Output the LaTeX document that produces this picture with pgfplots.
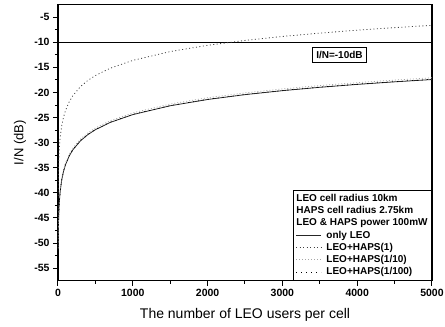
\documentclass[border=0pt]{standalone}
\usepackage{pgfplots}
\pgfplotsset{compat=1.18}
\usepackage{pgfplotstable}
\usepackage{fontspec}
\setmainfont{Liberation Sans}

\pgfplotstableread{
N    leo     h1      h10     h100
2    -51.39  -40.59  -51.04  -51.35
3    -49.63  -38.83  -49.28  -49.59
5    -47.41  -36.61  -47.06  -47.37
7    -45.95  -35.15  -45.60  -45.91
10   -44.40  -33.60  -44.05  -44.36
15   -42.64  -31.84  -42.29  -42.60
20   -41.39  -30.59  -41.04  -41.35
30   -39.63  -28.83  -39.28  -39.59
50   -37.41  -26.61  -37.06  -37.37
75   -35.65  -24.85  -35.30  -35.61
100  -34.40  -23.60  -34.05  -34.36
150  -32.64  -21.84  -32.29  -32.60
200  -31.39  -20.59  -31.04  -31.35
300  -29.63  -18.83  -29.28  -29.59
400  -28.38  -17.58  -28.03  -28.34
500  -27.41  -16.61  -27.06  -27.37
700  -25.95  -15.15  -25.60  -25.91
1000 -24.40  -13.60  -24.05  -24.36
1500 -22.64  -11.84  -22.29  -22.60
2000 -21.39  -10.59  -21.04  -21.35
2500 -20.42  -9.62   -20.07  -20.38
3000 -19.63  -8.83   -19.28  -19.59
3500 -18.96  -8.16   -18.61  -18.92
4000 -18.38  -7.58   -18.03  -18.34
4500 -17.87  -7.07   -17.52  -17.83
5000 -17.41  -6.61   -17.06  -17.37
}\datatable

\begin{document}
\begin{tikzpicture}
\begin{axis}[
  scale only axis, width=374pt, height=276pt,
  xmin=0, xmax=5000, ymin=-57.5, ymax=-2.5,
  xtick={0,1000,...,5000}, ytick={-55,-50,...,-5},
  minor x tick num=1, minor y tick num=1,
  tick align=outside, xtick pos=bottom, ytick pos=left,
  major tick length=5pt, minor tick length=3pt,
  axis line style={line width=1.3pt},
  every tick/.style={black, line width=1pt},
  tick label style={font=\fontsize{10.5}{11}\selectfont\bfseries},
  /pgf/number format/assume math mode=true,
  /pgf/number format/set thousands separator={},
  scaled x ticks=false,
  xlabel={The number of LEO users per cell},
  ylabel={I/N (dB)},
  xlabel style={font=\fontsize{14}{15}\selectfont, at={(axis description cs:0.5,-0.1232)}, anchor=center},
  ylabel style={font=\fontsize{13}{14}\selectfont, at={(axis description cs:-0.1016,0.5)}, anchor=center},
  legend style={at={(1,0)}, anchor=south east, draw=black, line width=0.8pt,
    font=\fontsize{10}{11}\selectfont\bfseries, inner sep=2pt, row sep=-0.5pt,
    cells={anchor=west},
    /tikz/every odd column/.append style={column sep=3pt}},
  legend cell align=left,
  legend image code/.code={\draw[#1] (0pt,0pt) -- (25pt,0pt);},
]
\addplot[black, line width=1.2pt, forget plot] coordinates {(0,-10) (5000,-10)};
\node[draw, line width=1pt, fill=white, inner sep=4pt, font=\fontsize{10}{11}\selectfont\bfseries]
  at (axis cs:3763,-12.5) {I/N=-10dB};

\addlegendimage{empty legend}
\addlegendentry{\hspace*{-30pt}LEO cell radius 10km}
\addlegendimage{empty legend}
\addlegendentry{\hspace*{-30pt}HAPS cell radius 2.75km}
\addlegendimage{empty legend}
\addlegendentry{\hspace*{-30pt}LEO \& HAPS power 100mW}

\addplot[black!85, line width=0.8pt] table[x=N, y=leo] {\datatable};
\addlegendentry{only LEO}
\addplot[black!75, line width=0.8pt, dash pattern=on 1pt off 2.5pt] table[x=N, y=h1] {\datatable};
\addlegendentry{LEO+HAPS(1)}
\addplot[black!35, line width=0.7pt, dash pattern=on 1pt off 2pt] table[x=N, y=h10] {\datatable};
\addlegendentry{LEO+HAPS(1/10)}
\addplot[black, line width=0.7pt, dash pattern=on 1pt off 4pt] table[x=N, y=h100] {\datatable};
\addlegendentry{LEO+HAPS(1/100)}
\end{axis}
\pgfresetboundingbox
\path (current axis.south west) ++(-58pt,-46.3pt) rectangle ++(445pt,327pt);
\end{tikzpicture}
\end{document}
